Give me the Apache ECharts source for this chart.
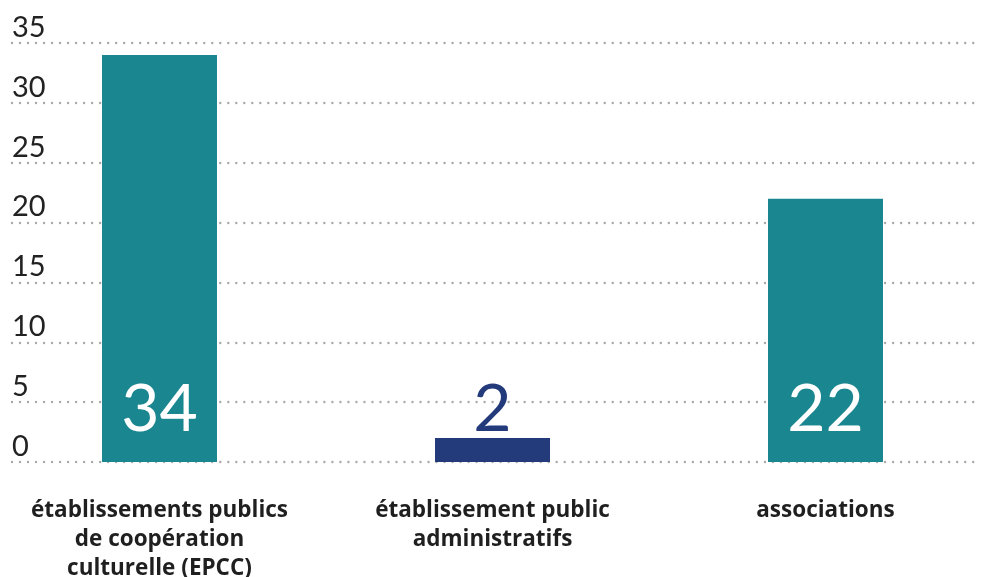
<!DOCTYPE html>
<html>
<head>
<meta charset="utf-8">
<script src="https://cdn.jsdelivr.net/npm/echarts@6/dist/echarts.min.js"></script>
<style>
  html, body { margin: 0; padding: 0; background: #fff; }
  #chart { width: 981px; height: 577px; }
</style>
</head>
<body>
<div id="chart"></div>
<script>
// Structures par statut juridique
const categories = [
  'établissements publics\nde coopération\nculturelle (EPCC)',
  'établissement public\nadministratifs',
  'associations'
];
const values = [34, 2, 22];
const barColors = ['#1a8690', '#233a7b', '#1a8690'];
const labelColors = ['#ffffff', '#233a7b', '#ffffff'];
const yTicks = { min: 0, max: 35, interval: 5 };

const chart = echarts.init(document.getElementById('chart'), null, { renderer: 'canvas' });

chart.setOption({
  animation: false,
  grid: [
    // bar area: wider than the canvas so the three bands line up with the bars
    { left: -7, right: -11, top: 43, bottom: 115, outerBoundsMode: 'none', containLabel: false },
    // value axis with dotted guide lines
    { left: 12, right: 0, top: 43, bottom: 115, outerBoundsMode: 'none', containLabel: false }
  ],
  xAxis: [
    {
      type: 'category',
      gridIndex: 0,
      data: categories,
      axisLine: { show: false },
      axisTick: { show: false },
      axisLabel: {
        margin: 34,
        color: '#1f1f1f',
        fontFamily: 'Open Sans',
        fontWeight: 'bold',
        fontSize: 22.5,
        lineHeight: 29,
        interval: 0
      }
    },
    {
      type: 'category',
      gridIndex: 1,
      data: ['a'],
      show: false
    }
  ],
  yAxis: [
    {
      type: 'value',
      gridIndex: 0,
      min: yTicks.min, max: yTicks.max, interval: yTicks.interval,
      show: false,
      splitLine: { show: false }
    },
    {
      type: 'value',
      gridIndex: 1,
      min: yTicks.min, max: yTicks.max, interval: yTicks.interval,
      axisLine: { show: false },
      axisTick: { show: false },
      axisLabel: {
        inside: true,
        margin: 0,
        align: 'left',
        verticalAlign: 'bottom',
        padding: [0, 0, 1, 0],
        color: '#222222',
        fontFamily: 'Lato',
        fontSize: 29
      },
      splitLine: {
        show: true,
        lineStyle: { color: '#a8a8a8', width: 2.4, type: [0.01, 8], cap: 'round' }
      }
    }
  ],
  series: [
    {
      type: 'bar',
      xAxisIndex: 0,
      yAxisIndex: 0,
      barWidth: 115,
      z: 3,
      data: values.map((v, i) => ({
        value: v,
        itemStyle: { color: barColors[i] },
        label: {
          show: true,
          position: 'insideBottom',
          distance: 19,
          color: labelColors[i],
          fontFamily: 'Lato',
          fontSize: 66,
          fontWeight: 'normal'
        }
      }))
    }
  ]
});
</script>
</body>
</html>
